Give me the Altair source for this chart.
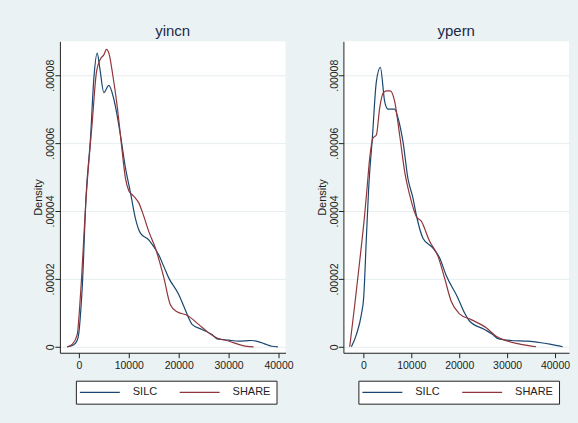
import altair as alt
import pandas as pd

SERIES = ["SILC", "SHARE"]
COLORS = ["#1a476f", "#90353b"]
X_TICKS = [0, 10000, 20000, 30000, 40000]
Y_TICKS = [0, 0.00002, 0.00004, 0.00006, 0.00008]

# ---- yincn panel ----
yincn_silc_x = [-2330, -1000, -300, 0, 300, 670, 1470, 2330, 3000, 3670, 4200, 5000, 6000, 7000,
                8330, 9300, 10330, 11300, 12330, 14000, 15000, 16000, 17000, 18000, 20000, 21000,
                22000, 22670, 24670, 26670, 27670, 30000, 32000, 33500, 34670, 36670, 37700, 38670, 39870]
yincn_silc_y = [0, 0.6e-6, 2.0e-6, 4.1e-6, 9e-6, 1.73e-5, 4.5e-5, 6.15e-5, 7.9e-5, 8.65e-5, 8.2e-5, 7.49e-5,
                7.7e-5, 7.3e-5, 6.24e-5, 5.3e-5, 4.55e-5, 3.8e-5, 3.35e-5, 3.15e-5, 2.95e-5, 2.71e-5,
                2.37e-5, 2.03e-5, 1.54e-5, 1.2e-5, 8.5e-6, 6.6e-6, 5.1e-6, 3.6e-6, 2.35e-6, 1.97e-6,
                1.66e-6, 1.75e-6, 1.85e-6, 1.18e-6, 0.6e-6, 0.15e-6, 0]
yincn_share_x = [-2330, -1300, -330, 330, 1500, 2670, 3530, 4330, 5000, 5530, 6100, 6800, 7670, 8500,
                 9330, 10000, 10670, 11330, 12000, 13000, 14000, 15330, 17000, 18330, 19670, 21670,
                 24000, 26000, 27670, 30000, 32000, 33670, 35000]
yincn_share_y = [0, 0.8e-6, 3.6e-6, 1.54e-5, 4.5e-5, 6.6e-5, 8.1e-5, 8.48e-5, 8.6e-5, 8.76e-5, 8.6e-5,
                 8.0e-5, 7.1e-5, 6.0e-5, 4.97e-5, 4.6e-5, 4.48e-5, 4.38e-5, 4.24e-5, 3.85e-5, 3.4e-5,
                 2.91e-5, 2.05e-5, 1.24e-5, 1.03e-5, 9.3e-6, 6.6e-6, 4.1e-6, 2.6e-6, 1.7e-6, 0.7e-6,
                 0.1e-6, 0]

# ---- ypern panel ----
ypern_silc_x = [-2500, -1460, -420, 60, 625, 1110, 1875, 2710, 3540, 4440, 5140, 6530, 7220, 8260,
                9310, 10350, 11040, 12430, 14520, 15900, 17290, 19720, 21100, 22150, 25270, 27020,
                28060, 30830, 34310, 37080, 39170, 41600]
ypern_silc_y = [0, 3.6e-6, 9.5e-6, 1.44e-5, 3.2e-5, 4.68e-5, 6.15e-5, 7.81e-5, 8.23e-5, 7.23e-5, 7.0e-5,
                7.0e-5, 6.74e-5, 6.05e-5, 4.95e-5, 4.38e-5, 3.89e-5, 3.2e-5, 2.91e-5, 2.62e-5, 2.1e-5,
                1.44e-5, 1.0e-5, 7.6e-6, 5.1e-6, 3.6e-6, 2.4e-6, 1.85e-6, 1.66e-6, 1.18e-6, 0.7e-6, 0]
ypern_share_x = [-2850, -1800, -770, 270, 770, 1320, 2010, 2710, 3400, 4100, 4790, 5625, 6530, 7570,
                 8610, 9650, 11040, 12080, 13820, 15560, 16940, 18330, 20060, 22500, 25630, 27710,
                 30140, 32920, 36040]
ypern_share_y = [0, 1.24e-5, 2.52e-5, 3.89e-5, 4.68e-5, 5.56e-5, 6.15e-5, 6.24e-5, 7.03e-5, 7.47e-5,
                 7.54e-5, 7.54e-5, 7.23e-5, 6.24e-5, 5.17e-5, 4.48e-5, 3.84e-5, 3.7e-5, 3.11e-5,
                 2.67e-5, 2.03e-5, 1.34e-5, 9.7e-6, 8e-6, 5.6e-6, 3.1e-6, 1.66e-6, 0.7e-6, 0]

FONT = "Liberation Sans"


def panel(title, sx, sy, hx, hy, xdom, legend_x):
    df = pd.DataFrame({
        "x": sx + hx,
        "y": sy + hy,
        "series": ["SILC"] * len(sx) + ["SHARE"] * len(hx),
    })
    return alt.Chart(df, title=alt.TitleParams(
        title, anchor="middle", frame="group", fontSize=15, fontWeight="normal",
        color="#1c2a4a", font=FONT, offset=2)).mark_line(
        strokeWidth=1.2, interpolate="monotone", clip=True
    ).encode(
        x=alt.X("x:Q", scale=alt.Scale(domain=xdom, nice=False, zero=False),
                axis=alt.Axis(values=X_TICKS, format="d", title=None, grid=False,
                              labelFontSize=10.5, labelPadding=3, tickSize=5,
                              labelFont=FONT, labelColor="#222222",
                              domainColor="#222222", tickColor="#222222")),
        y=alt.Y("y:Q", scale=alt.Scale(domain=[-1.76e-6, 9.0e-5], nice=False, zero=False),
                axis=alt.Axis(values=Y_TICKS, title="Density", grid=True, gridColor="#e6eef0",
                              labelExpr="datum.value == 0 ? '0' : replace(format(datum.value, '.5f'), '0.', '.')",
                              labelAngle=270, labelAlign="center", labelBaseline="alphabetic",
                              labelFontSize=10.5, labelPadding=1, tickSize=5,
                              labelFont=FONT, labelColor="#222222",
                              titleFont=FONT, titleFontSize=11, titleFontWeight="normal",
                              titleColor="#222222", titlePadding=2,
                              domainColor="#222222", tickColor="#222222")),
        color=alt.Color("series:N", sort=SERIES,
                        scale=alt.Scale(domain=SERIES, range=COLORS),
                        legend=alt.Legend(title=None, orient="none", legendX=legend_x, legendY=340,
                                          direction="horizontal", fillColor="white",
                                          strokeColor="#222222", padding=6,
                                          symbolType="M-3,0H13", symbolSize=25,
                                          symbolStrokeWidth=1.2, labelFontSize=11,
                                          labelFont=FONT, labelColor="#222222",
                                          labelOffset=40, columnPadding=19)),
    ).properties(width=226, height=312)


left = panel("yincn", yincn_silc_x, yincn_silc_y, yincn_share_x, yincn_share_y, [-3800, 41400], 16)
right = panel("ypern", ypern_silc_x, ypern_silc_y, ypern_share_x, ypern_share_y, [-4167, 42917], 15)

chart = alt.hconcat(left, right, spacing=22).resolve_scale(
    color="independent"
).resolve_legend(color="independent").properties(
    background="#EAF2F3",
    padding={"left": 32, "top": 24, "right": 8, "bottom": 22},
).configure_view(stroke=None, fill="white")

chart.save("out.html", embed_options={"renderer": "svg", "actions": False})
